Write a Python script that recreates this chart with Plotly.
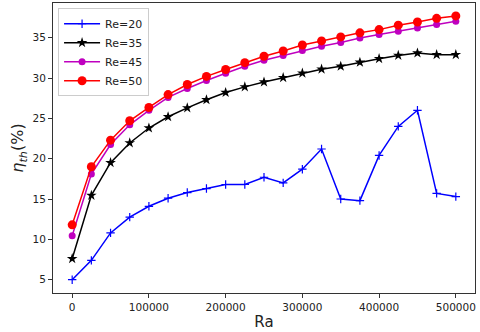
import plotly.graph_objects as go

ra = [0, 25000, 50000, 75000, 100000, 125000, 150000, 175000, 200000, 225000,
      250000, 275000, 300000, 325000, 350000, 375000, 400000, 425000, 450000,
      475000, 500000]

re20 = [5.0, 7.4, 10.8, 12.75, 14.1, 15.1, 15.8, 16.3, 16.8, 16.8,
        17.7, 17.0, 18.7, 21.2, 15.0, 14.8, 20.4, 24.0, 26.0, 15.7, 15.3]
re35 = [7.6, 15.45, 19.5, 21.95, 23.8, 25.2, 26.3, 27.3, 28.2, 28.9,
        29.5, 30.05, 30.6, 31.1, 31.45, 31.95, 32.4, 32.8, 33.1, 32.9, 32.9]
re45 = [10.45, 18.1, 21.75, 24.2, 26.0, 27.6, 28.7, 29.7, 30.6, 31.45,
        32.2, 32.8, 33.4, 33.95, 34.4, 34.95, 35.4, 35.8, 36.2, 36.65, 37.05]
re50 = [11.8, 19.0, 22.3, 24.7, 26.35, 27.95, 29.2, 30.2, 31.05, 31.9,
        32.7, 33.35, 34.1, 34.6, 35.1, 35.6, 36.0, 36.55, 36.95, 37.4, 37.7]

series = [
    ("Re=20", re20, "#0000ff", "cross-thin", 6),
    ("Re=35", re35, "#000000", "star", 8),
    ("Re=45", re45, "#bf00bf", "circle", 7),
    ("Re=50", re50, "#ff0000", "circle", 9),
]

fig = go.Figure()
for name, ys, col, sym, sz in series:
    fig.add_trace(go.Scatter(
        x=ra, y=ys, name=name, mode="lines+markers",
        line=dict(color=col, width=1.5),
        marker=dict(symbol=sym, size=sz, color=col,
                    line=dict(color=col, width=1.2 if sym == "cross-thin" else 0)),
    ))

axis_common = dict(
    showline=True, linecolor="#333333", linewidth=1, mirror=True,
    ticks="outside", ticklen=4, tickcolor="#333333", tickwidth=1,
    showgrid=False, zeroline=False,
    tickfont=dict(family="DejaVu Sans", size=10.5, color="#222222"),
)

fig.update_layout(
    width=480, height=332,
    margin=dict(l=53, r=5, t=3, b=39),
    paper_bgcolor="white", plot_bgcolor="white",
    font=dict(family="DejaVu Sans", color="#222222"),
    xaxis=dict(range=[-25000, 525000], tickvals=[0, 100000, 200000, 300000, 400000, 500000],
               ticktext=["0", "100000", "200000", "300000", "400000", "500000"],
               title=dict(text="Ra", font=dict(size=15), standoff=4), **axis_common),
    yaxis=dict(range=[3.35, 39.3], tickvals=[5, 10, 15, 20, 25, 30, 35],
               title=dict(text="<i>η</i><sub><i>th</i></sub>(%)", font=dict(size=16), standoff=4),
               **axis_common),
    legend=dict(x=0.012, y=0.982, xanchor="left", yanchor="top",
                bgcolor="rgba(255,255,255,0.8)", bordercolor="#cccccc", borderwidth=1,
                font=dict(size=11), tracegroupgap=0, itemwidth=36),
    showlegend=True,
)

fig.write_html("out.html", config={"displayModeBar": False},
               post_script="document.body.style.margin='0px';document.body.style.overflow='hidden';")
